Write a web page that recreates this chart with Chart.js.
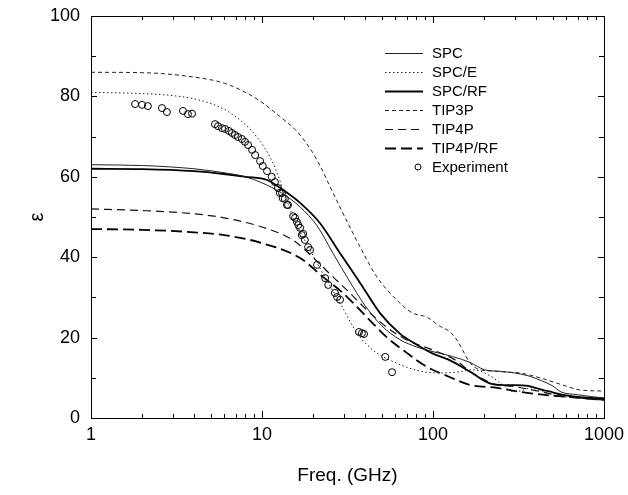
<!DOCTYPE html>
<html>
<head>
<meta charset="utf-8">
<script src="https://cdn.jsdelivr.net/npm/chart.js@4.4.0/dist/chart.umd.min.js"></script>
<style>
  html, body { margin: 0; padding: 0; background: #fff; }
  canvas { display: block; }
</style>
</head>
<body>
<canvas id="epsChart" width="628" height="495"></canvas>
<script>
// dielectric constant vs frequency
const labels = ['SPC', 'SPC/E', 'SPC/RF', 'TIP3P', 'TIP4P', 'TIP4P/RF', 'Experiment'];

const freqSPC = [1, 2, 4, 6, 8, 10, 13, 16.7, 21, 26, 32, 40, 50, 64, 80, 100, 130, 165, 200, 250, 300, 360, 430, 500, 560, 700, 850, 1000];
const epsSPC  = [63, 62.8, 62, 61, 60, 58.5, 56, 52.5, 47.8, 41, 34.5, 28, 23, 19.5, 17.7, 16.5, 15.3, 13.8, 12, 11.6, 11.2, 10.5, 9.3, 8, 6.5, 5.8, 5.3, 5];

const freqSPCE = [1, 2, 3, 4, 5.2, 6.3, 7.45, 9.33, 11.6, 15.2, 19.1, 23.9, 28.6, 36, 44.5, 56, 80, 106, 138, 171, 216, 260, 293, 330, 370, 430, 505, 700, 1000];
const epsSPCE  = [81, 80.7, 80.2, 79.4, 78, 76.3, 74.1, 69.9, 63.4, 50, 41.8, 34.3, 28.6, 21.1, 16.9, 14.4, 11.9, 11.2, 11.4, 12, 10.5, 8, 6.6, 6.8, 7.5, 6.8, 5.7, 5, 4.5];

const freqSPCRF = [1, 2, 4, 6, 8, 10.7, 13, 16.7, 21.8, 28.6, 37.5, 49, 64, 80, 100, 125, 165, 215, 260, 300, 360, 420, 500, 600, 720, 1000];
const epsSPCRF  = [62, 61.9, 61.4, 60.7, 60, 59.2, 57, 53.5, 48.5, 41, 33.6, 26.1, 21, 18.3, 16, 14.4, 11.5, 8.6, 8.2, 8.2, 8, 7.2, 6.4, 5.6, 5.2, 4.8];

const freqTIP3P = [1, 2, 4, 6, 8.17, 10, 12.7, 16, 19.8, 22, 24.4, 29.7, 37.5, 47, 64, 76, 92, 110, 125, 138, 165, 188, 224, 270, 323, 422, 574, 720, 1000];
const epsTIP3P  = [86, 85.9, 84.8, 83.3, 80.8, 78.5, 75, 71.3, 66, 62.5, 58.5, 51, 42.5, 35.1, 28.6, 26.1, 25.1, 22.8, 21.5, 19.4, 13.7, 12, 11.7, 11.4, 11.2, 10, 8.2, 7, 6.7];

const freqTIP4P = [1, 2, 4, 6, 10, 15.1, 19.8, 26, 31.4, 41, 53.6, 70.3, 100, 125, 140, 165, 200, 224, 300, 400, 520, 700, 1000];
const epsTIP4P  = [52, 51.6, 50.8, 49.8, 47.5, 44.3, 40, 35.1, 31.8, 26.9, 22.6, 19.4, 16.9, 15.2, 14, 11.5, 9.5, 8.5, 7.8, 6.8, 5.8, 5, 4.5];

const freqTIP4PRF = [1, 2, 4, 6, 10, 16.7, 22.7, 29.7, 41, 53.6, 70.3, 92.4, 125, 165, 237, 323, 464, 720, 1000];
const epsTIP4PRF  = [47, 46.8, 46.2, 45.5, 43.5, 39.8, 35.1, 31.1, 25.1, 20.1, 16.2, 12.7, 10.2, 8.2, 7.5, 6.5, 5.7, 5, 4.5];

const freqExp = [1.81, 1.99, 2.15, 2.6, 2.78, 3.45, 3.69, 3.9, 5.31, 5.53, 5.84, 6.08, 6.41, 6.67, 6.95, 7.24, 7.63, 7.95, 8.29, 8.75, 9.12, 9.75, 10.1, 10.7, 11.4, 11.9, 12.4, 12.7, 13.1, 13.2, 13.6, 14, 14.2, 15.2, 15.6, 16, 16.3, 16.7, 17.1, 17.4, 17.8, 18.6, 19.1, 21, 23.4, 24.4, 26.7, 27.5, 28.6, 36.9, 38.4, 39.5, 52.6, 57.6];
const epsExp  = [78.1, 77.9, 77.6, 77.1, 76.1, 76.4, 75.6, 75.7, 73.1, 72.6, 72.1, 71.9, 71.4, 70.9, 70.4, 69.9, 69.4, 68.7, 67.9, 66.7, 65.4, 63.9, 62.7, 61.4, 60, 58.7, 57.2, 56, 56, 54.7, 54.5, 53, 53, 50.2, 49.8, 48.8, 48, 47.3, 45.5, 45.8, 44.3, 42.5, 41.8, 38.1, 34.8, 33.1, 31.1, 30.1, 29.4, 21.4, 21.1, 20.9, 15.2, 11.4];

const xLabelTicks = [1, 10, 100, 1000];

function pts(f, e) {
    return f.map((v, i) => ({ x: v, y: e[i] }));
}

function lineSet(label, f, e, width, dash, color) {
    return {
        label: label,
        data: pts(f, e),
        borderColor: color,
        borderWidth: width,
        borderDash: dash,
        pointRadius: 0,
        fill: false,
        cubicInterpolationMode: 'monotone',
    };
}

const FONT = "'Liberation Sans', Arial, Helvetica, sans-serif";

// frame with inward ticks on all four sides + legend in the upper right
const framePlugin = {
    id: 'frame',
    afterDraw(chart) {
        const ctx = chart.ctx;
        const a = chart.chartArea;
        const xs = chart.scales.x;
        const ys = chart.scales.y;
        ctx.save();
        ctx.strokeStyle = '#000';
        ctx.lineWidth = 1;
        ctx.setLineDash([]);
        ctx.strokeRect(Math.round(a.left) + 0.5, Math.round(a.top) + 0.5,
            Math.round(a.right - a.left), Math.round(a.bottom - a.top));

        ctx.beginPath();
        [1, 10, 100].forEach(d => {
            for (let k = 1; k <= 9; k++) {
                const v = k * d;
                const px = Math.round(xs.getPixelForValue(v)) + 0.5;
                const len = k === 1 ? 7 : 4;
                ctx.moveTo(px, a.bottom); ctx.lineTo(px, a.bottom - len);
                ctx.moveTo(px, a.top); ctx.lineTo(px, a.top + len);
            }
        });
        for (let v = 10; v < 100; v += 10) {
            const py = Math.round(ys.getPixelForValue(v)) + 0.5;
            const len = v % 20 === 0 ? 6 : 5;
            ctx.moveTo(a.left, py); ctx.lineTo(a.left + len, py);
            ctx.moveTo(a.right, py); ctx.lineTo(a.right - len, py);
        }
        ctx.stroke();

        // legend
        const rowY0 = 53, rowH = 19;
        const sx0 = 385, sx1 = 423, tx = 432;
        ctx.font = '15px ' + FONT;
        ctx.fillStyle = '#000';
        ctx.textBaseline = 'middle';
        ctx.textAlign = 'left';
        chart.data.datasets.forEach((ds, i) => {
            const y = rowY0 + i * rowH;
            if (ds.showLine === false) {
                ctx.setLineDash([]);
                ctx.lineWidth = 1;
                ctx.beginPath();
                ctx.arc(418, y, 3, 0, Math.PI * 2);
                ctx.stroke();
            } else {
                ctx.setLineDash(ds.borderDash || []);
                ctx.lineWidth = ds.borderWidth;
                ctx.strokeStyle = ds.borderColor;
                ctx.beginPath();
                ctx.moveTo(sx0, y + 0.5);
                ctx.lineTo(sx1, y + 0.5);
                ctx.stroke();
                ctx.strokeStyle = '#000';
            }
            ctx.fillText(ds.label, tx, y + 1);
        });
        ctx.restore();
    }
};

const chart = new Chart(document.getElementById('epsChart'), {
    type: 'line',
    data: {
        datasets: [
            lineSet(labels[0], freqSPC, epsSPC, 1, [], '#222'),
            lineSet(labels[1], freqSPCE, epsSPCE, 1, [1.5, 2.5], '#222'),
            lineSet(labels[2], freqSPCRF, epsSPCRF, 1.8, [], '#000'),
            lineSet(labels[3], freqTIP3P, epsTIP3P, 1, [4, 3], '#222'),
            lineSet(labels[4], freqTIP4P, epsTIP4P, 1.2, [8, 5], '#111'),
            lineSet(labels[5], freqTIP4PRF, epsTIP4PRF, 1.8, [11, 5], '#000'),
            {
                label: labels[6],
                data: pts(freqExp, epsExp),
                showLine: false,
                pointStyle: 'circle',
                pointRadius: 3.5,
                pointBorderWidth: 1,
                pointBorderColor: '#000',
                pointBackgroundColor: 'rgba(255,255,255,0)',
                borderColor: '#000',
            },
        ],
    },
    options: {
        responsive: false,
        animation: false,
        devicePixelRatio: 1,
        layout: { padding: { top: 16, right: 24, bottom: 0, left: 0 } },
        plugins: {
            legend: { display: false },
            tooltip: { enabled: false },
        },
        scales: {
            x: {
                type: 'logarithmic',
                min: 1,
                max: 1000,
                grid: { display: false, drawTicks: false },
                border: { display: false },
                afterFit(scale) {
                    scale.height = 77;
                    scale.paddingLeft = 0;
                    scale.paddingRight = 0;
                },
                ticks: {
                    autoSkip: false,
                    maxRotation: 0,
                    padding: 6,
                    color: '#000',
                    font: { family: FONT, size: 18 },
                    callback: (v) => xLabelTicks.includes(v) ? String(v) : '',
                },
                title: {
                    display: true,
                    text: 'Freq. (GHz)',
                    color: '#000',
                    font: { family: FONT, size: 19 },
                    padding: { top: 0, bottom: 8 },
                },
            },
            y: {
                min: 0,
                max: 100,
                grid: { display: false, drawTicks: false },
                border: { display: false },
                afterFit(scale) {
                    scale.width = 91;
                    scale.paddingTop = 0;
                    scale.paddingBottom = 0;
                },
                ticks: {
                    stepSize: 20,
                    padding: 11,
                    color: '#000',
                    font: { family: FONT, size: 18 },
                },
                title: {
                    display: true,
                    text: 'ε',
                    color: '#000',
                    font: { family: FONT, size: 20 },
                    padding: { top: 25, bottom: 0 },
                },
            },
        },
    },
    plugins: [framePlugin],
});
</script>
</body>
</html>
